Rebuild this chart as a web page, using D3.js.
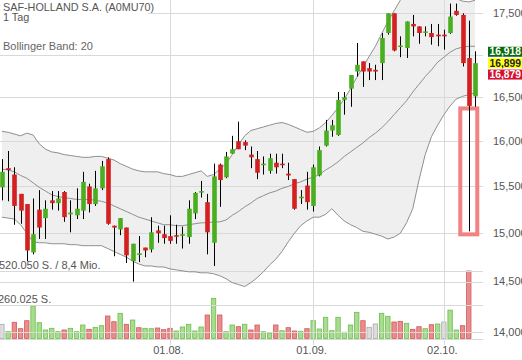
<!DOCTYPE html>
<html><head><meta charset="utf-8">
<script src="https://cdn.jsdelivr.net/npm/d3@7"></script>
<style>html,body{margin:0;padding:0;background:#fff;overflow:hidden}svg{display:block;font-family:"Liberation Sans",Arial,Helvetica,sans-serif}</style>
</head><body><svg id="c" width="522" height="360"></svg>
<script>
const titleText = "SAF-HOLLAND S.A. (A0MU70)";
const periodText = "1 Tag";
const indicatorText = "Bollinger Band: 20";

const openP  = [15.49,15.70,15.63,15.42,15.31,14.80,15.25,15.16,15.35,15.32,15.44,15.20,15.19,15.24,15.50,15.31,15.48,15.80,15.08,15.04,15.06,14.71,14.78,14.85,14.83,15.03,14.99,14.97,14.98,14.98,14.96,15.21,15.44,15.33,14.90,15.74,15.60,15.86,16.00,15.99,15.85,15.80,15.74,15.67,15.76,15.75,15.64,15.58,15.38,15.51,15.29,15.62,15.95,16.12,16.07,16.47,16.60,16.80,16.92,16.84,16.82,16.90,17.26,17.50,17.10,17.08,17.37,17.34,17.27,17.26,17.24,17.24,17.26,17.53,17.48,16.96,16.51];
const highP  = [15.80,15.89,15.71,15.42,15.31,15.37,15.46,15.35,15.45,15.45,15.45,15.35,15.48,15.66,15.53,15.67,15.78,15.82,15.08,15.16,15.06,14.89,14.97,14.85,15.17,15.08,15.08,15.19,15.09,15.07,15.35,15.44,15.56,15.42,15.75,15.75,15.88,16.06,16.22,16.01,15.94,15.89,15.83,15.86,15.86,15.86,15.76,15.58,15.46,15.66,15.74,15.94,16.24,16.24,16.56,16.56,16.76,17.14,16.92,16.90,16.88,17.26,17.50,17.50,17.22,17.40,17.48,17.34,17.34,17.37,17.37,17.30,17.62,17.62,17.50,17.41,17.04];
const lowP   = [15.35,15.34,15.09,15.10,14.71,14.78,14.94,14.94,15.25,15.24,15.12,15.01,15.15,15.15,15.22,15.29,15.46,15.09,14.76,14.98,14.69,14.50,14.70,14.75,14.80,14.90,14.89,14.89,14.89,14.84,14.89,15.15,15.38,14.78,14.66,15.28,15.59,15.86,15.91,15.90,15.70,15.58,15.63,15.64,15.64,15.70,15.57,15.25,15.31,15.25,15.23,15.61,15.94,16.05,16.06,16.30,16.39,16.74,16.62,16.70,16.70,16.70,17.24,17.04,16.97,16.96,17.22,17.13,17.22,17.12,17.10,17.06,17.25,17.47,16.86,15.02,16.39];
const closeP = [15.66,15.68,15.29,15.24,14.82,14.99,15.06,15.26,15.32,15.37,15.17,15.22,15.26,15.55,15.31,15.48,15.72,15.10,15.06,15.16,14.77,14.89,14.79,14.82,15.01,15.00,14.95,14.92,14.97,14.99,15.26,15.43,15.45,15.01,15.61,15.57,15.83,15.91,15.91,15.95,15.82,15.65,15.75,15.81,15.71,15.74,15.62,15.26,15.39,15.33,15.71,15.90,16.12,16.18,16.47,16.50,16.76,16.88,16.80,16.80,16.80,17.20,17.50,17.05,17.11,17.40,17.34,17.26,17.28,17.21,17.22,17.22,17.46,17.48,16.90,16.40,16.899];

const volume = [109400,52400,124800,75500,137100,250400,121700,65500,78600,52400,65500,78600,52400,104000,70900,86300,98600,173300,129400,194100,109400,142500,83200,78600,75500,80900,67800,78600,57800,88600,109400,57800,88600,181000,309700,181000,52400,104000,90900,109400,65500,104000,52400,42400,104000,60100,83200,57800,55500,75500,137100,73200,163300,60100,163300,47800,104000,201800,137100,86300,111700,194100,171000,127100,132500,117100,70900,90900,75500,106300,111700,127000,218500,65500,98600,520050,0];
const volumeDir = [0,1,-1,-1,-1,1,1,1,1,1,-1,1,1,1,-1,1,1,-1,-1,1,-1,1,-1,1,1,-1,-1,-1,1,1,1,1,1,-1,1,-1,1,1,-1,1,-1,-1,1,1,-1,1,-1,-1,1,-1,1,1,1,1,1,1,1,1,-1,0,0,1,1,-1,-1,1,-1,-1,1,-1,1,0,1,1,-1,-1,1];

const bbUpper  = [16.11,16.10,16.08,16.06,16.09,16.07,15.97,15.91,15.88,15.87,15.85,15.84,15.83,15.82,15.82,15.83,15.83,15.81,15.79,15.75,15.72,15.69,15.67,15.66,15.66,15.66,15.64,15.63,15.61,15.61,15.63,15.65,15.67,15.61,15.63,15.69,15.75,15.85,15.96,16.06,16.12,16.14,16.16,16.18,16.20,16.21,16.19,16.16,16.13,16.10,16.11,16.15,16.21,16.29,16.38,16.48,16.60,16.73,16.85,16.98,17.10,17.25,17.40,17.53,17.66,17.76,17.83,17.86,17.85,17.82,17.78,17.74,17.71,17.68,17.65,17.64,17.66];
const bbMiddle = [15.69,15.68,15.66,15.62,15.59,15.54,15.49,15.45,15.41,15.39,15.38,15.37,15.36,15.36,15.36,15.35,15.34,15.32,15.29,15.26,15.23,15.20,15.17,15.15,15.13,15.11,15.09,15.09,15.08,15.08,15.09,15.10,15.11,15.11,15.12,15.12,15.14,15.19,15.23,15.28,15.32,15.37,15.40,15.43,15.45,15.48,15.50,15.53,15.55,15.58,15.60,15.63,15.68,15.72,15.77,15.83,15.88,15.93,15.98,16.04,16.09,16.15,16.22,16.30,16.38,16.46,16.56,16.65,16.74,16.82,16.91,16.97,17.03,17.07,17.09,17.10,17.10];
const bbLower  = [15.17,15.16,15.15,15.09,15.00,14.91,14.90,14.90,14.89,14.89,14.89,14.88,14.88,14.87,14.87,14.87,14.87,14.84,14.81,14.78,14.75,14.71,14.68,14.66,14.66,14.65,14.65,14.63,14.62,14.61,14.60,14.60,14.59,14.59,14.58,14.56,14.53,14.49,14.47,14.45,14.49,14.54,14.60,14.67,14.73,14.81,14.91,15.00,15.08,15.13,15.17,15.17,15.20,15.26,15.19,15.13,15.09,15.06,15.02,15.01,14.99,14.97,14.94,14.96,15.00,15.11,15.26,15.57,15.85,16.05,16.18,16.30,16.40,16.48,16.51,16.53,16.55];

const priceTicks = [14.0,14.5,15.0,15.5,16.0,16.5,17.0,17.5];
const xTickIndex = [27,50,71];
const xTickLabels = ["01.08.","01.09.","02.10."];
const quoteValues = [16.918,16.899,16.879];
const volumeMax = 520050;
const turnoverText = "8,4 Mio.";
const highlightIndex = 75;

const de = d3.formatLocale({decimal:",", thousands:".", grouping:[3], currency:["","€"]});
const fPrice = de.format(",.3f");
const fVol = de.format(",d");

const N = closeP.length;
const svg = d3.select("#c");
const plotL = 0, plotR = 483;
const x = d3.scaleLinear().domain([0, N-1]).range([1.9, 475]);
const y = d3.scaleLog().domain([14.0, 17.5]).range([331.7, 13.3]);
const yv = d3.scaleLinear().domain([0, volumeMax]).range([338.5, 271]);
const bodyW = 4.6, volW = 4.4;
const idx = d3.range(N);

svg.append("defs").append("clipPath").attr("id","pc")
  .append("rect").attr("x",0).attr("y",0).attr("width",plotR).attr("height",340);

const g = svg.append("g").attr("clip-path","url(#pc)");

// Bollinger band fill
g.append("path").datum(idx)
  .attr("d", d3.area().x(i=>x(i)).y0(i=>y(bbLower[i])).y1(i=>y(bbUpper[i])))
  .attr("fill","#efefef");

// volume bars
const vcol = d => d>0 ? ["#a8dc8e","#6dbd4c"] : d<0 ? ["#eb8c8c","#cf5a5a"] : ["#dddddd","#a9a9a9"];
g.selectAll("rect.vol").data(idx.filter(i=>volume[i]>0)).join("rect")
  .attr("x", i=>x(i)-volW/2).attr("width", volW)
  .attr("y", i=>yv(volume[i])).attr("height", i=>yv(0)-yv(volume[i]))
  .attr("fill", i=>vcol(volumeDir[i])[0]).attr("stroke", i=>vcol(volumeDir[i])[1]).attr("stroke-width",0.8);

// gridlines
svg.append("g").selectAll("line").data(priceTicks).join("line")
  .attr("x1",plotL).attr("x2",plotR).attr("y1",d=>Math.round(y(d))+0.5).attr("y2",d=>Math.round(y(d))+0.5)
  .attr("stroke","#d9d9d9").attr("stroke-width",1);
svg.append("g").selectAll("line").data([volumeMax, volumeMax/2, 0]).join("line")
  .attr("x1",plotL).attr("x2",plotR).attr("y1",d=>Math.round(yv(d))+0.5).attr("y2",d=>Math.round(yv(d))+0.5)
  .attr("stroke","#d9d9d9").attr("stroke-width",1);
svg.append("g").selectAll("line").data(xTickIndex).join("line")
  .attr("x1",d=>Math.round(x(d))+0.5).attr("x2",d=>Math.round(x(d))+0.5).attr("y1",0).attr("y2",345)
  .attr("stroke","#d9d9d9").attr("stroke-width",1);

// band lines
const g2 = svg.append("g").attr("clip-path","url(#pc)");
[bbUpper,bbMiddle,bbLower].forEach(arr=>{
  g2.append("path").datum(idx)
    .attr("d", d3.line().x(i=>x(i)).y(i=>y(arr[i])))
    .attr("fill","none").attr("stroke","#8f8f8f").attr("stroke-width",1);
});

// highlight box
const hb = highlightIndex;
g2.append("rect")
  .attr("x", x(hb)-8.5).attr("width", 17)
  .attr("y", y(closeP[hb])+2.5).attr("height", y(lowP[hb])+3 - (y(closeP[hb])+2.5))
  .attr("fill","none").attr("stroke","#f28282").attr("stroke-width",4);

// candles
const up = "#4aae20", dn = "#d42020";
g2.selectAll("line.wick").data(idx).join("line")
  .attr("x1",i=>Math.round(x(i))+0.5).attr("x2",i=>Math.round(x(i))+0.5)
  .attr("y1",i=>y(highP[i])).attr("y2",i=>y(lowP[i]))
  .attr("stroke","#000").attr("stroke-width",1);
g2.selectAll("rect.body").data(idx).join("rect")
  .attr("x",i=>Math.round(x(i))+0.5-bodyW/2).attr("width",bodyW)
  .attr("y",i=>Math.min(y(openP[i]),y(closeP[i])))
  .attr("height",i=>Math.max(1.6, Math.abs(y(openP[i])-y(closeP[i]))))
  .attr("fill",i=>closeP[i]>=openP[i]?up:dn);

// title block
svg.append("rect").attr("x",0).attr("y",0).attr("width",148).attr("height",23).attr("fill","#fff");
const tcol = "#555";
svg.append("text").attr("x",3).attr("y",10.5).attr("font-size",10.8).attr("fill",tcol).text(titleText);
svg.append("text").attr("x",3).attr("y",21).attr("font-size",10.8).attr("fill",tcol).text(periodText);
svg.append("text").attr("x",3).attr("y",49.5).attr("font-size",11).attr("fill","#666").text(indicatorText);

// volume labels
svg.append("text").attr("x",-1).attr("y",268.5).attr("font-size",11).attr("fill","#555")
  .text(fVol(volumeMax)+" S. / "+turnoverText);
svg.append("text").attr("x",-2).attr("y",302.5).attr("font-size",11).attr("fill","#555")
  .text(fVol(volumeMax/2)+" S.");

// quote block position
const qy = y(quoteValues[1]);
const qTop = qy - 17.5, qBot = qy + 17.5;

// y axis labels (those hidden behind the quote boxes are skipped)
svg.append("g").selectAll("text").data(priceTicks.filter(d=>y(d)<qTop-4 || y(d)>qBot+4)).join("text")
  .attr("x",493).attr("y",d=>y(d)).attr("dy","0.35em").attr("font-size",11).attr("fill","#555")
  .text(d=>fPrice(d));

// x axis labels
svg.append("g").selectAll("text").data(xTickIndex).join("text")
  .attr("x",d=>x(d)-1.5).attr("y",354).attr("text-anchor","middle").attr("font-size",11).attr("fill","#555")
  .text((d,k)=>xTickLabels[k]);

// quote boxes
const qStyle = [["#0b6b0b","#fff"],["#ffff1a","#222"],["#d6102e","#fff"]];
quoteValues.forEach((v,k)=>{
  const cy = qy + (k-1)*11.4;
  svg.append("rect").attr("x",488).attr("y",cy-5).attr("width",40).attr("height",10).attr("fill",qStyle[k][0]);
  svg.append("text").attr("x",489.5).attr("y",cy).attr("dy","0.36em").attr("font-size",10.3).attr("font-weight","bold")
    .attr("fill",qStyle[k][1]).text(fPrice(v));
});
</script></body></html>
